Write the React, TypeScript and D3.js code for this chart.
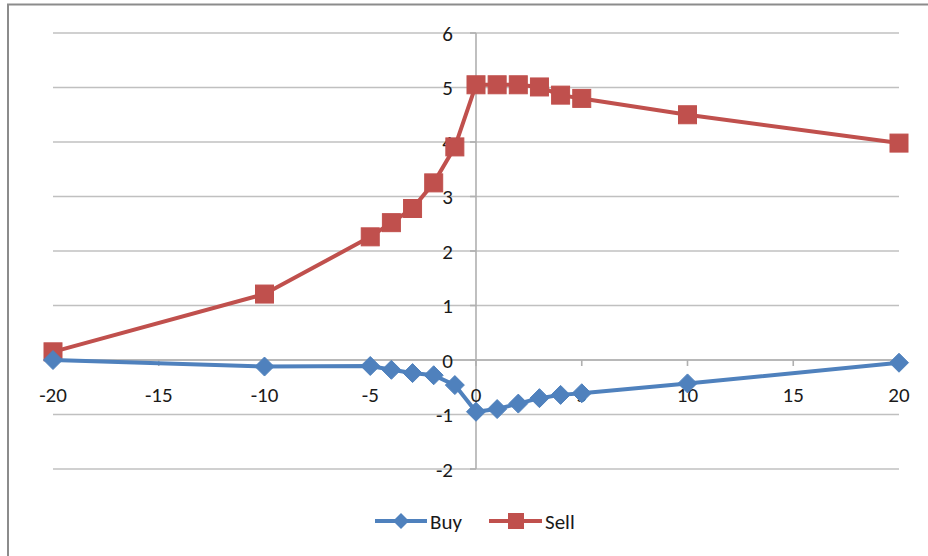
import React from "react";
import * as d3 from "d3";

const xValues = [-20, -10, -5, -4, -3, -2, -1, 0, 1, 2, 3, 4, 5, 10, 20];
const buyValues = [0.0, -0.12, -0.11, -0.18, -0.24, -0.28, -0.46, -0.95, -0.9, -0.8, -0.7, -0.64, -0.61, -0.43, -0.05];
const sellValues = [0.15, 1.21, 2.26, 2.52, 2.78, 3.25, 3.91, 5.05, 5.05, 5.05, 5.01, 4.86, 4.8, 4.5, 3.98];
const xTicks = [-20, -15, -10, -5, 0, 5, 10, 15, 20];
const yTicks = [-2, -1, 0, 1, 2, 3, 4, 5, 6];
const seriesNames = ["Buy", "Sell"];

const BLUE = "#4F81BD";
const RED = "#C0504D";
const FONT = "Carlito, Calibri, Lato, 'Liberation Sans', sans-serif";

export default function App() {
  const x = d3.scaleLinear().domain([-20, 20]).range([53, 899]);
  const y = d3.scaleLinear().domain([-2, 6]).range([469, 33]);
  const line = d3
    .line<[number, number]>()
    .x((d) => x(d[0]))
    .y((d) => y(d[1]));
  const buy = xValues.map((v, i) => [v, buyValues[i]] as [number, number]);
  const sell = xValues.map((v, i) => [v, sellValues[i]] as [number, number]);

  const diamond = (cx: number, cy: number, r: number) =>
    `M${cx},${cy - r}L${cx + r},${cy}L${cx},${cy + r}L${cx - r},${cy}Z`;

  return (
    <svg
      width={928}
      height={556}
      style={{ position: "absolute", left: 0, top: 0, background: "#fff" }}
      fontFamily={FONT}
    >
      <rect x={0} y={0} width={928} height={556} fill="#fff" />
      <rect x={8} y={4.5} width={930} height={570} fill="#fff" stroke="#8c8c8c" strokeWidth={2} />
      {/* gridlines */}
      {yTicks.map((t) => (
        <line key={"g" + t} x1={x(-20)} x2={x(20)} y1={y(t)} y2={y(t)} stroke="#c0c0c0" strokeWidth={1.6} />
      ))}
      {/* y axis */}
      <line x1={x(0)} x2={x(0)} y1={y(6)} y2={y(-2)} stroke="#b0b0b0" strokeWidth={1.6} />
      {/* x axis */}
      <line x1={x(-20)} x2={x(20)} y1={y(0)} y2={y(0)} stroke="#b0b0b0" strokeWidth={1.6} />
      {xTicks.map((t) => (
        <line key={"xt" + t} x1={x(t)} x2={x(t)} y1={y(0)} y2={y(0) + 6} stroke="#b0b0b0" strokeWidth={1.6} />
      ))}
      {yTicks.map((t) => (
        <line key={"yt" + t} x1={x(0) - 6} x2={x(0)} y1={y(t)} y2={y(t)} stroke="#b0b0b0" strokeWidth={1.6} />
      ))}
      {/* y labels */}
      {yTicks.map((t) => (
        <text key={"yl" + t} x={453} y={y(t)} dy="0.36em" textAnchor="end" fontSize={21} fill="#1a1a1a">
          {t < 0 ? "-" + Math.abs(t) : String(t)}
        </text>
      ))}
      {/* x labels */}
      {xTicks.map((t) => (
        <text key={"xl" + t} x={x(t)} y={402} textAnchor="middle" fontSize={21} fill="#1a1a1a">
          {t < 0 ? "-" + Math.abs(t) : String(t)}
        </text>
      ))}
      {/* sell series */}
      <path d={line(sell) || ""} fill="none" stroke={RED} strokeWidth={4} strokeLinejoin="round" />
      {sell.map((d, i) => (
        <rect key={"s" + i} x={x(d[0]) - 9} y={y(d[1]) - 9} width={18} height={18} fill={RED} stroke={RED} strokeWidth={1} />
      ))}
      {/* buy series */}
      <path d={line(buy) || ""} fill="none" stroke={BLUE} strokeWidth={4} strokeLinejoin="round" />
      {buy.map((d, i) => (
        <path key={"b" + i} d={diamond(x(d[0]), y(d[1]), 9.5)} fill={BLUE} stroke={BLUE} strokeWidth={1} />
      ))}
      {/* legend */}
      <line x1={375} x2={427} y1={521} y2={521} stroke={BLUE} strokeWidth={4} />
      <path d={diamond(401, 521, 8)} fill={BLUE} />
      <text x={430} y={521} dy="0.36em" fontSize={21} fill="#1a1a1a">{seriesNames[0]}</text>
      <line x1={489} x2={542} y1={521} y2={521} stroke={RED} strokeWidth={4} />
      <rect x={508} y={513} width={16} height={16} fill={RED} />
      <text x={545} y={521} dy="0.36em" fontSize={21} fill="#1a1a1a">{seriesNames[1]}</text>
    </svg>
  );
}
